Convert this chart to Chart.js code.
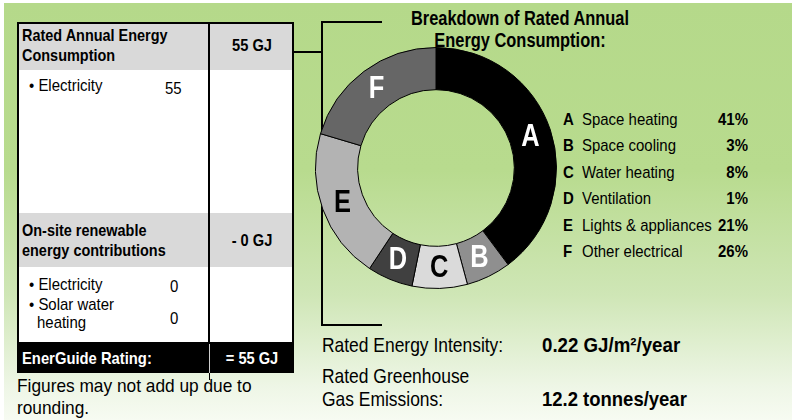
<!DOCTYPE html>
<html>
<head>
<meta charset="utf-8">
<script src="https://cdn.jsdelivr.net/npm/chart.js@4.4.0/dist/chart.umd.min.js"></script>
<style>
  body { margin: 0; background: #fff; }
  #page { position: relative; width: 792px; height: 420px; overflow: hidden; background: #fff;
          font-family: 'Liberation Sans', Arial, sans-serif; color: #000; }
  #bg { position: absolute; left: 4px; top: 3px; right: 0; bottom: 0;
        background: linear-gradient(to bottom, #b5d98a 0%, #b8db8e 40%, #cfe6b6 70%, #eef6e6 92%, #f7fbf2 100%); }
  .abs { position: absolute; }
  .line { position: absolute; background: #000; }
  .t { position: absolute; white-space: nowrap; line-height: 1; transform-origin: left center; }
  .c { text-align: center; transform-origin: center center; }
  .r { text-align: right; transform-origin: right center; }
  .b { font-weight: bold; }
  #chartBox { position: absolute; left: 315px; top: 47px; width: 242px; height: 242px; }
</style>
</head>
<body>
<div id="page">
  <div id="bg"></div>

  <!-- left table -->
  <div class="abs" style="left:17px;top:22px;width:277px;height:322px;background:#fff;box-sizing:border-box;border:2px solid #000;"></div>
  <div class="abs" style="left:19px;top:24px;width:273px;height:46px;background:#d9d9d9;"></div>
  <div class="abs" style="left:19px;top:213px;width:273px;height:54px;background:#d9d9d9;"></div>
  <div class="line" style="left:208px;top:22px;width:2px;height:322px;"></div>
  <div class="abs" style="left:17px;top:344px;width:277px;height:29px;background:#000;"></div>
  <div class="abs" style="left:209px;top:344px;width:1px;height:29px;background:#cfcfcf;"></div>
  <div class="line" style="left:209px;top:373px;width:1px;height:7px;"></div>

  <div class="t b" style="left:22px;top:27px;font-size:17px;transform:scaleX(0.85);">Rated Annual Energy</div>
  <div class="t b" style="left:22px;top:47px;font-size:17px;transform:scaleX(0.85);">Consumption</div>
  <div class="t b c" style="left:210px;width:84px;top:37px;font-size:17px;transform:scaleX(0.86);">55 GJ</div>
  <div class="t" style="left:29px;top:77px;font-size:17px;transform:scaleX(0.88);">&#8226; Electricity</div>
  <div class="t" style="left:165px;top:80px;font-size:17px;transform:scaleX(0.88);">55</div>

  <div class="t b" style="left:22px;top:222px;font-size:17px;transform:scaleX(0.85);">On-site renewable</div>
  <div class="t b" style="left:22px;top:242px;font-size:17px;transform:scaleX(0.85);">energy contributions</div>
  <div class="t b c" style="left:210px;width:84px;top:232px;font-size:17px;transform:scaleX(0.86);">- 0 GJ</div>
  <div class="t" style="left:29px;top:276px;font-size:17px;transform:scaleX(0.88);">&#8226; Electricity</div>
  <div class="t" style="left:170px;top:278px;font-size:17px;transform:scaleX(0.88);">0</div>
  <div class="t" style="left:29px;top:296px;font-size:17px;transform:scaleX(0.88);">&#8226; Solar water</div>
  <div class="t" style="left:37px;top:314px;font-size:17px;transform:scaleX(0.88);">heating</div>
  <div class="t" style="left:170px;top:310px;font-size:17px;transform:scaleX(0.88);">0</div>

  <div class="t b" style="left:22px;top:350px;font-size:17px;color:#fff;transform:scaleX(0.87);">EnerGuide Rating:</div>
  <div class="t b c" style="left:210px;width:84px;top:350px;font-size:17px;color:#fff;transform:scaleX(0.86);">= 55 GJ</div>

  <div class="t" style="left:17px;top:376px;font-size:19px;transform:scaleX(0.91);">Figures may not add up due to</div>
  <div class="t" style="left:17px;top:398px;font-size:19px;transform:scaleX(0.91);">rounding.</div>

  <!-- connector -->
  <div class="line" style="left:294px;top:51px;width:29px;height:2px;"></div>
  <div class="line" style="left:321px;top:21px;width:2px;height:305px;"></div>
  <div class="line" style="left:321px;top:21px;width:61px;height:2px;"></div>
  <div class="line" style="left:321px;top:324px;width:61px;height:2px;"></div>

  <!-- title -->
  <div class="t b c" style="left:370px;width:300px;top:8px;font-size:20px;transform:scaleX(0.82);">Breakdown of Rated Annual</div>
  <div class="t b c" style="left:370px;width:300px;top:30px;font-size:20px;transform:scaleX(0.82);">Energy Consumption:</div>

  <div id="chartBox"><canvas id="ringChart"></canvas></div>
  <div id="legend"></div>

  <!-- bottom figures -->
  <div class="t" style="left:322px;top:334px;font-size:21px;transform:scaleX(0.83);">Rated Energy Intensity:</div>
  <div class="t b" style="left:542px;top:334px;font-size:21px;transform:scaleX(0.89);">0.22 GJ/m&#178;/year</div>
  <div class="t" style="left:322px;top:365px;font-size:21px;transform:scaleX(0.83);">Rated Greenhouse</div>
  <div class="t" style="left:322px;top:388px;font-size:21px;transform:scaleX(0.83);">Gas Emissions:</div>
  <div class="t b" style="left:542px;top:388px;font-size:21px;transform:scaleX(0.88);">12.2 tonnes/year</div>
</div>

<script>
// slice letters, names and the printed shares
const letters = ['A', 'B', 'C', 'D', 'E', 'F'];
const categories = ['Space heating', 'Space cooling', 'Water heating', 'Ventilation', 'Lights & appliances', 'Other electrical'];
const shareLabels = ['41%', '3%', '8%', '1%', '21%', '26%'];
// arc sizes as drawn in the ring (small slices are drawn wider than their share)
const arcShare = [39.8, 6.0, 7.4, 6.1, 20.3, 20.4];

const sliceColors = ['#000000', '#8f8f8f', '#dadada', '#404040', '#b3b3b3', '#666666'];
const letterColors = ['#ffffff', '#ffffff', '#000000', '#ffffff', '#000000', '#ffffff'];

// legend rows
const legend = document.getElementById('legend');
letters.forEach(function(letter, i) {
    const top = 111 + i * 26.4;
    const name = categories[i].replace('&', '&amp;');
    legend.innerHTML +=
        '<div class="t b" style="left:563px;top:' + top + 'px;font-size:17px;transform:scaleX(0.88);">' + letter + '</div>' +
        '<div class="t" style="left:582px;top:' + top + 'px;font-size:17px;transform:scaleX(0.88);">' + name + '</div>' +
        '<div class="t b r" style="left:680px;width:68px;top:' + top + 'px;font-size:17px;transform:scaleX(0.88);">' + shareLabels[i] + '</div>';
});

// letters inside the ring, squeezed like a narrow face
const sliceLetters = {
    id: 'sliceLetters',
    afterDatasetsDraw(chart) {
        const ctx = chart.ctx;
        const meta = chart.getDatasetMeta(0);
        ctx.save();
        ctx.font = "bold 31px 'Liberation Sans', Arial, sans-serif";
        ctx.textAlign = 'center';
        ctx.textBaseline = 'middle';
        meta.data.forEach(function(arc, i) {
            const pos = arc.tooltipPosition();
            ctx.save();
            ctx.translate(pos.x, pos.y + 1);
            ctx.scale(0.82, 1);
            ctx.fillStyle = letterColors[i];
            ctx.fillText(letters[i], 0, 0);
            ctx.restore();
        });
        ctx.restore();
    }
};

const ctx = document.getElementById('ringChart').getContext('2d');
new Chart(ctx, {
    type: 'doughnut',
    data: {
        labels: categories,
        datasets: [{
            data: arcShare,
            backgroundColor: sliceColors,
            borderColor: '#000000',
            borderWidth: 1
        }]
    },
    options: {
        responsive: true,
        maintainAspectRatio: false,
        animation: false,
        cutout: '65%',
        layout: { padding: 0 },
        plugins: {
            legend: { display: false },
            tooltip: { enabled: false }
        }
    },
    plugins: [sliceLetters]
});
</script>
</body>
</html>
